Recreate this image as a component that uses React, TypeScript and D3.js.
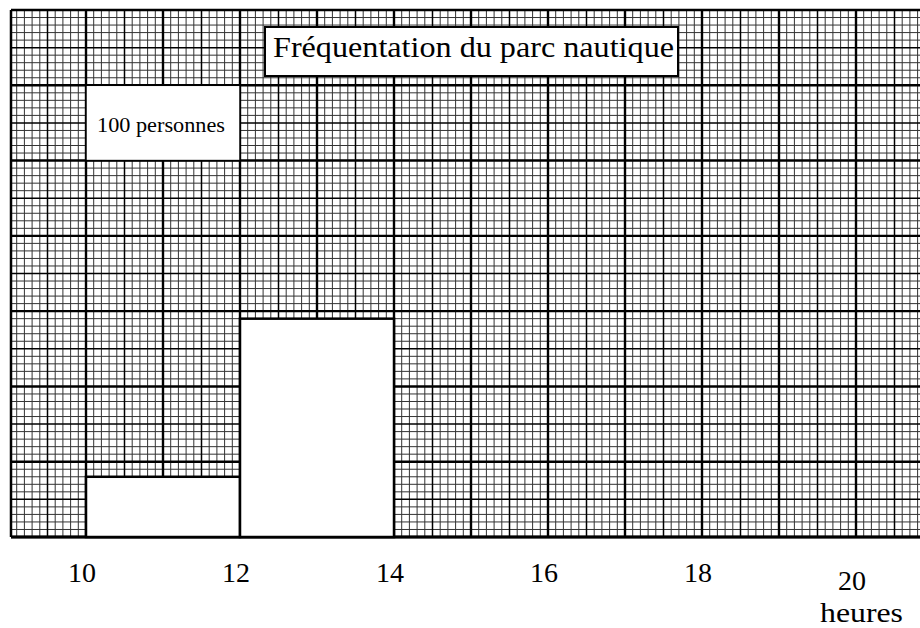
import React from 'react'
import * as d3 from 'd3'

const width = 920
const height = 628

// hours on the x axis, persons on the y axis (one big square row = 100 persons for a 2h class)
const classStarts = [10, 12]
const classEnds = [12, 14]
const persons = [80, 290]
const tickHours = [10, 12, 14, 16, 18, 20]
const legendPersons = 100
const titleText = 'Fréquentation du parc nautique'
const unitText = 'heures'

const font = "'Liberation Serif', 'DejaVu Serif', serif"

const x = d3.scaleLinear().domain([10, 20]).range([86, 856])
const y = d3.scaleLinear().domain([0, 700]).range([537, 10])

const paperLeft = x(9) + 2
const paperTop = y(700)
const paperBottom = y(0)

export default function App() {
  // graph paper: 10 minor lines per big square
  const vLines = d3.range(0, 121).map(i => ({ pos: x(9 + i / 10), kind: i % 10 === 0 ? 2 : i % 5 === 0 ? 1 : 0 }))
  const hLines = d3.range(0, 71).map(i => ({ pos: y(i * 10), kind: i % 10 === 0 ? 2 : i % 5 === 0 ? 1 : 0 }))
  const strokeFor = (k: number) => (k === 2 ? '#000' : k === 1 ? '#000' : '#333')
  const widthFor = (k: number) => (k === 2 ? 2.4 : k === 1 ? 1.5 : 1)

  return (
    <svg width={width} height={height} style={{ position: 'absolute', left: 0, top: 0, background: '#fff' }}>
      <g>
        {[0, 1, 2].map(k => (
          <g key={k}>
            {vLines.filter(l => l.kind === k && l.pos >= paperLeft - 1).map((l, i) => (
              <line key={'v' + i} x1={l.pos} x2={l.pos} y1={paperTop} y2={paperBottom}
                stroke={strokeFor(k)} strokeWidth={widthFor(k)} />
            ))}
            {hLines.filter(l => l.kind === k).map((l, i) => (
              <line key={'h' + i} x1={paperLeft} x2={width} y1={l.pos} y2={l.pos}
                stroke={strokeFor(k)} strokeWidth={widthFor(k)} />
            ))}
          </g>
        ))}
        <line x1={paperLeft} x2={paperLeft} y1={paperTop} y2={paperBottom} stroke="#000" strokeWidth={2.5} />
        <line x1={paperLeft} x2={width} y1={paperBottom} y2={paperBottom} stroke="#000" strokeWidth={3} />
      </g>

      {/* histogram bars */}
      {persons.map((p, i) => (
        <rect key={i}
          x={x(classStarts[i])} y={y(p)}
          width={x(classEnds[i]) - x(classStarts[i])} height={y(0) - y(p)}
          fill="#fff" stroke="#000" strokeWidth={2.5} />
      ))}

      {/* legend: one big square over a 2h class */}
      <rect x={x(10)} y={y(600)} width={x(12) - x(10)} height={y(600 - legendPersons) - y(600)}
        fill="#fff" stroke="#000" strokeWidth={1.5} />
      <text x={97} y={132} fontFamily={font} fontSize={20} textLength={128} lengthAdjust="spacingAndGlyphs">
        {legendPersons} personnes
      </text>

      {/* title */}
      <rect x={265} y={27} width={413} height={49} fill="#fff" stroke="#000" strokeWidth={2} />
      <text x={273} y={57} fontFamily={font} fontSize={30} textLength={401} lengthAdjust="spacingAndGlyphs">{titleText}</text>

      {/* x ticks */}
      {tickHours.map((h, i) => (
        <text key={h} x={x(h) - 4} y={i === tickHours.length - 1 ? 590 : 582}
          textAnchor="middle" fontFamily={font} fontSize={28}>{h}</text>
      ))}
      <text x={820} y={622} fontFamily={font} fontSize={28} textLength={83} lengthAdjust="spacingAndGlyphs">{unitText}</text>
    </svg>
  )
}
